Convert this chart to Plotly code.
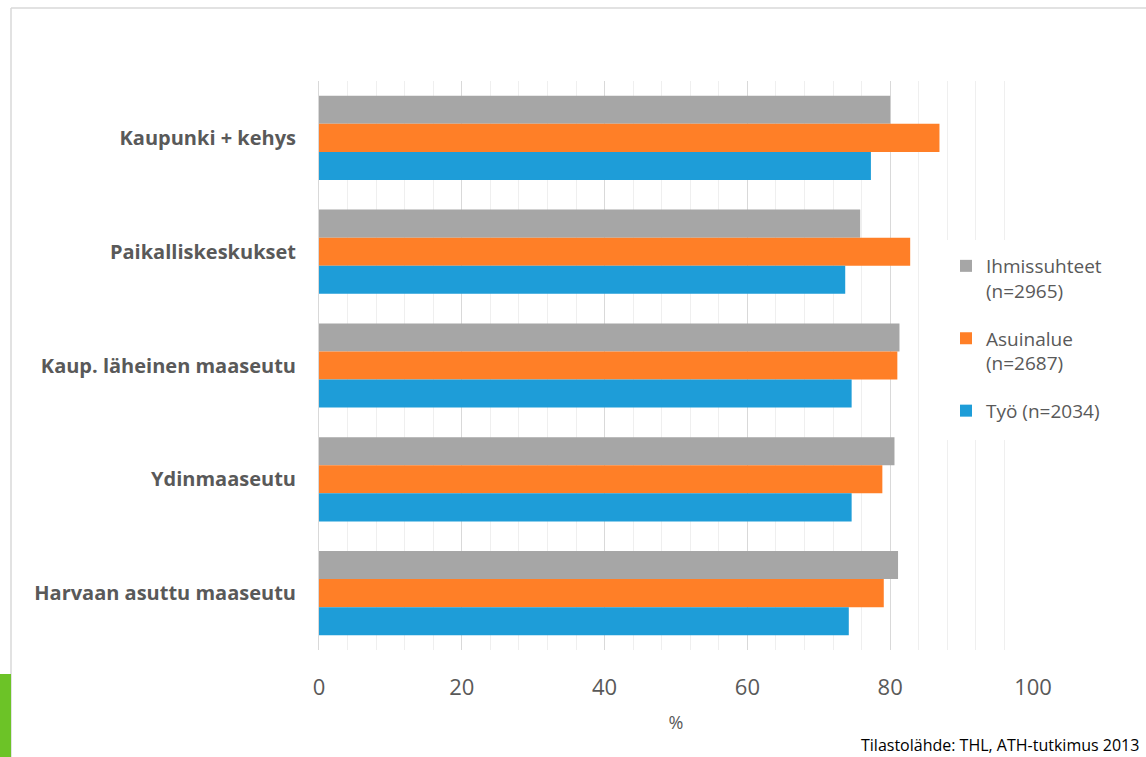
import plotly.graph_objects as go

categories = ["Kaupunki + kehys", "Paikalliskeskukset", "Kaup. läheinen maaseutu",
              "Ydinmaaseutu", "Harvaan asuttu maaseutu"]
series_names = ["Ihmissuhteet<br>(n=2965)", "Asuinalue<br>(n=2687)", "Työ (n=2034)"]
ihmissuhteet = [80.0, 75.8, 81.3, 80.6, 81.1]
asuinalue = [86.9, 82.8, 81.0, 78.9, 79.1]
tyo = [77.3, 73.7, 74.6, 74.6, 74.2]
colors = ["#a6a6a6", "#ff7f27", "#1e9dd8"]
x_ticks = [0, 20, 40, 60, 80, 100]

W, H = 1146, 757
L, R, T, B = 319, 113, 81, 107
pw, ph = W - L - R, H - T - B


def px_x(p):
    return (p - L) / pw


def px_y(p):
    return (H - B - p) / ph


fig = go.Figure()
for name, vals, col in zip(series_names, [ihmissuhteet, asuinalue, tyo], colors):
    fig.add_trace(go.Bar(
        y=categories, x=vals, name=name, orientation="h",
        marker=dict(color=col, line=dict(width=0)),
        legendgroup=name,
    ))

fig.update_layout(
    width=W, height=H,
    margin=dict(l=L, r=R, t=T, b=B, autoexpand=False),
    paper_bgcolor="white", plot_bgcolor="white",
    barmode="group", bargap=0.26, bargroupgap=0,
    font=dict(family="Open Sans, Lato, sans-serif", color="#595959"),
    showlegend=True,
    legend=dict(
        x=px_x(946), y=px_y(247), xanchor="left", yanchor="top",
        bgcolor="white", font=dict(size=19, color="#595959", family="Open Sans"),
        tracegroupgap=20, valign="top", itemwidth=30,
        traceorder="grouped",
    ),
    xaxis=dict(
        range=[0, 100], tickvals=x_ticks, ticktext=[str(v) for v in x_ticks],
        showgrid=True, gridcolor="#d9d9d9", gridwidth=1,
        minor=dict(dtick=4, showgrid=True, gridcolor="#efefef", gridwidth=1),
        zeroline=False, showline=False,
        tickfont=dict(size=22, color="#595959", family="Open Sans"),
        ticklabelstandoff=22,
        title=dict(text="%", font=dict(size=18, color="#595959", family="Open Sans"), standoff=16),
    ),
    yaxis=dict(
        categoryorder="array", categoryarray=categories, autorange="reversed",
        showgrid=False, zeroline=False, showline=True, linecolor="#d9d9d9", linewidth=1,
        tickfont=dict(size=20, color="#595959", family="Open Sans", weight="bold"),
        ticklabelstandoff=18, ticks="",
    ),
)

# white backdrop behind the legend (hides gridlines there)
fig.add_shape(type="rect", xref="paper", yref="paper", layer="above",
              x0=px_x(940), x1=px_x(1120), y0=px_y(240), y1=px_y(440),
              line=dict(width=0), fillcolor="white")

# slide frame decorations
fig.add_shape(type="line", xref="paper", yref="paper",
              x0=px_x(11), x1=px_x(1146), y0=px_y(8), y1=px_y(8),
              line=dict(color="#d9d9d9", width=1.5))
fig.add_shape(type="line", xref="paper", yref="paper",
              x0=px_x(11), x1=px_x(11), y0=px_y(8), y1=px_y(757),
              line=dict(color="#d9d9d9", width=1.5))
fig.add_shape(type="rect", xref="paper", yref="paper",
              x0=px_x(0), x1=px_x(11), y0=px_y(674), y1=px_y(757),
              line=dict(width=0), fillcolor="#6cc327")

fig.add_annotation(text="Tilastolähde: THL, ATH-tutkimus 2013",
                   xref="paper", yref="paper", x=px_x(1141), y=px_y(745),
                   xanchor="right", yanchor="middle", showarrow=False,
                   font=dict(size=16, color="#000000", family="Open Sans"))

fig.write_html("out.html", config={"displayModeBar": False},
               post_script="document.body.style.margin='0px';")
